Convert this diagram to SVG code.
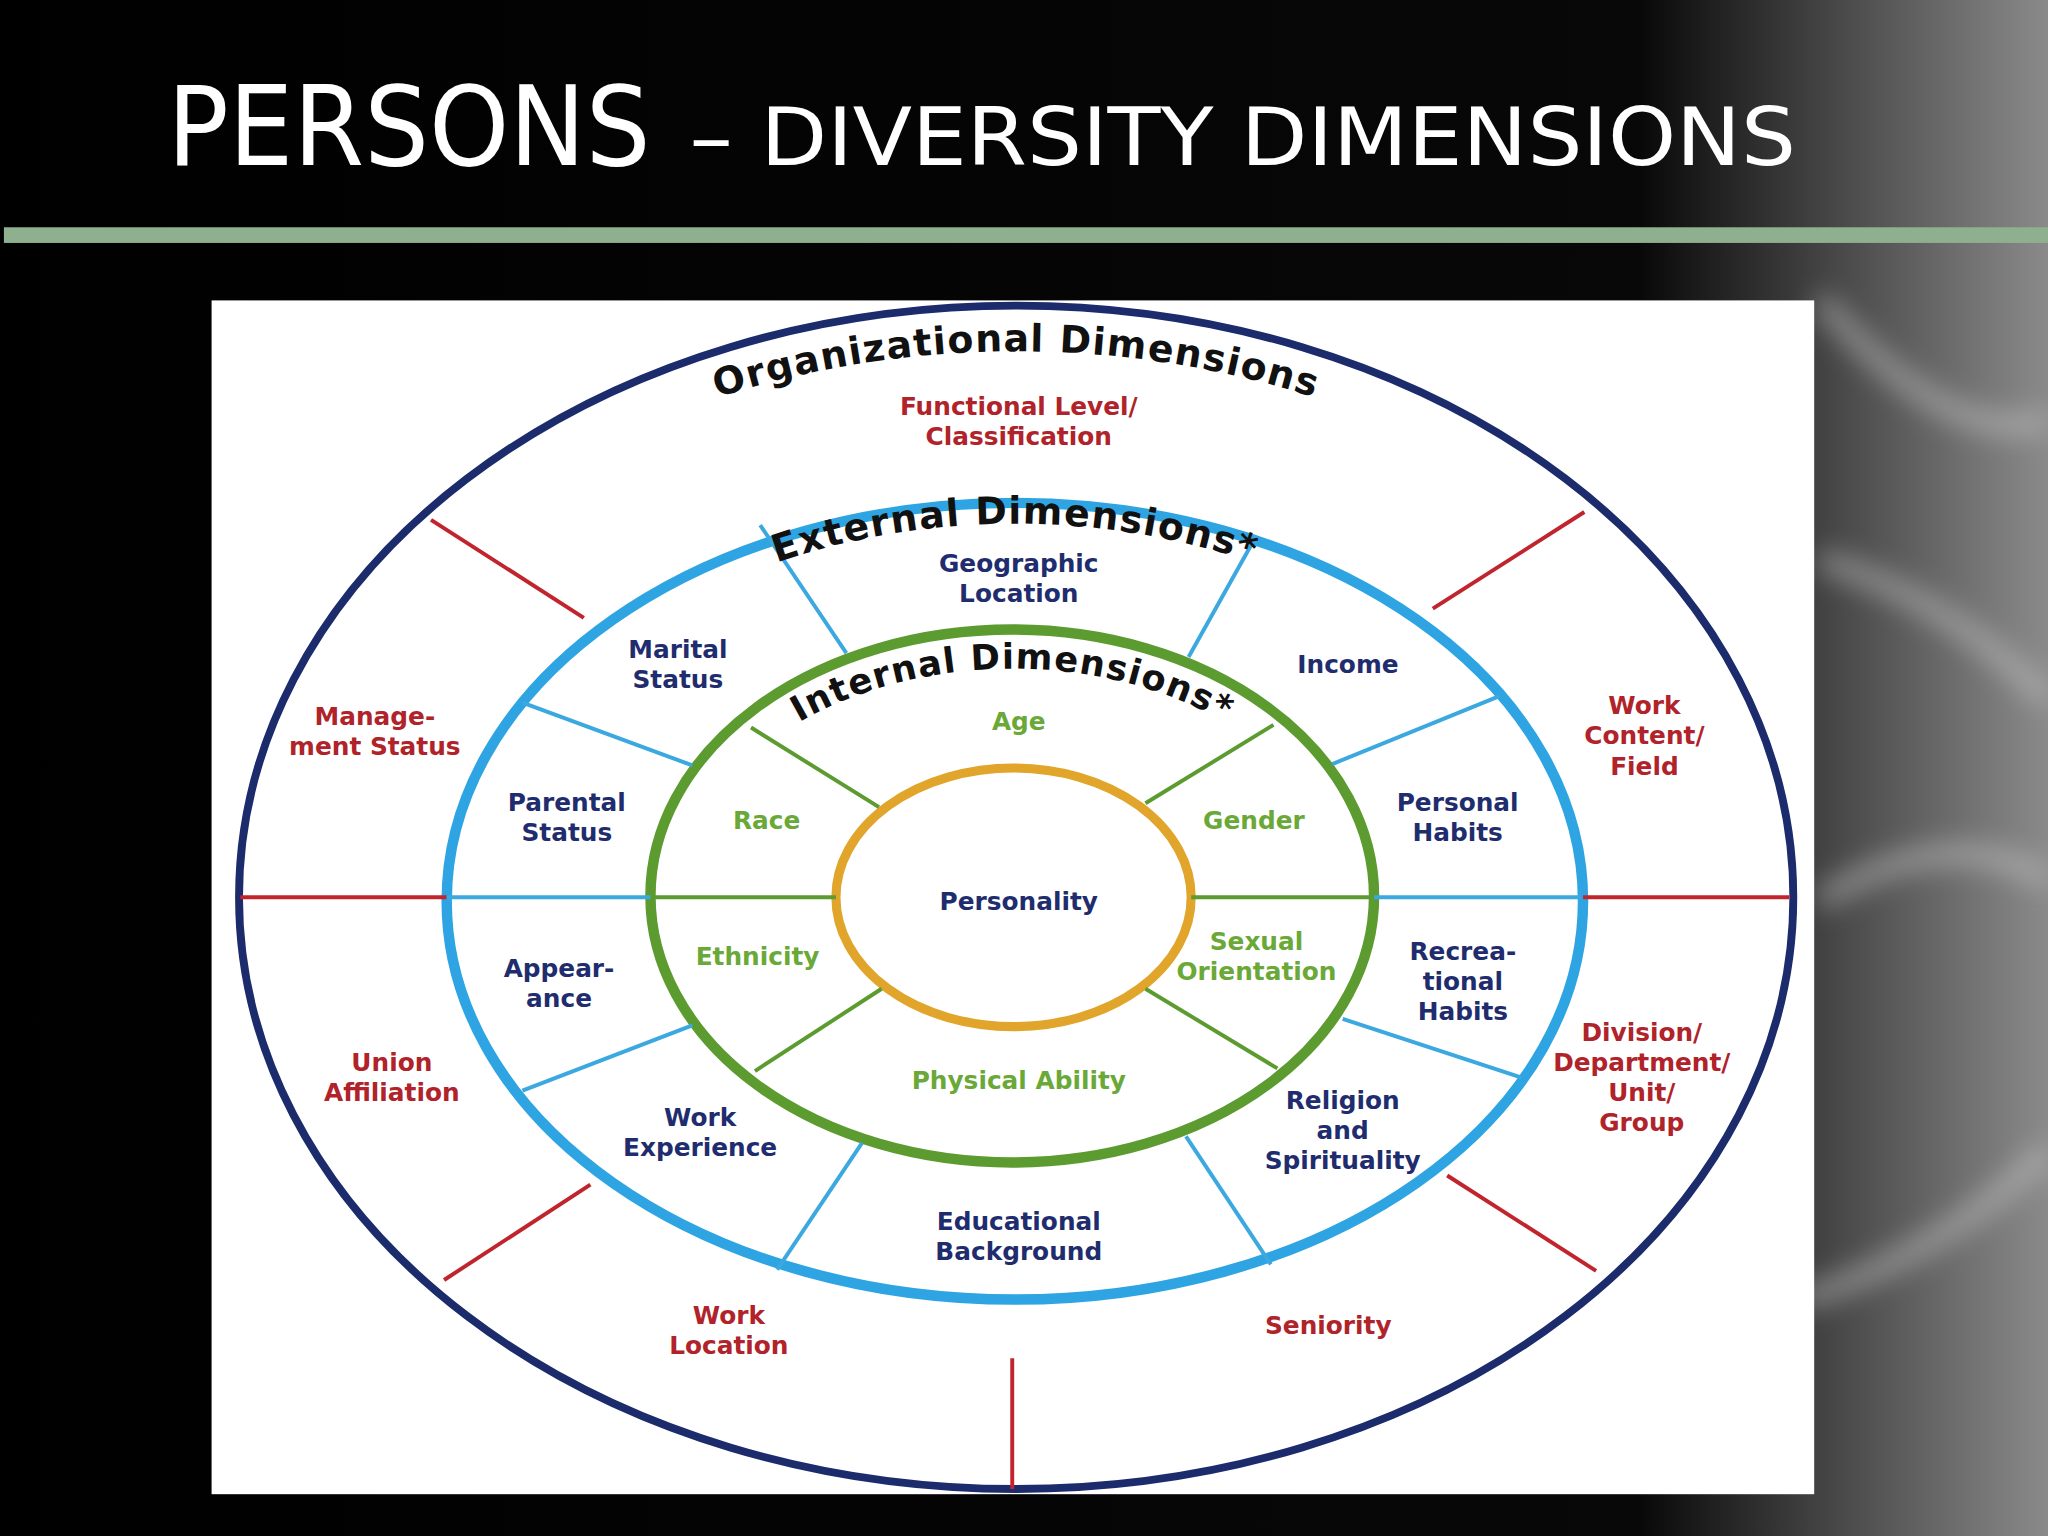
<svg xmlns="http://www.w3.org/2000/svg" width="2048" height="1536" viewBox="0 0 2048 1536">
<defs>
<linearGradient id="bg" x1="0" y1="0" x2="1" y2="0">
<stop offset="0" stop-color="#000"/><stop offset="0.8" stop-color="#080808"/><stop offset="0.9" stop-color="#4a4a4a"/><stop offset="1" stop-color="#8a8a8a"/>
</linearGradient>
<filter id="blur"><feGaussianBlur stdDeviation="14"/></filter>
<style>
.t{font-family:"DejaVu Sans",Verdana,sans-serif;font-weight:bold;font-size:19px;text-anchor:middle}
.r{fill:#b0232a}.n{fill:#1f2d6e}.g{fill:#6aa838}
.rl{stroke:#c0242c;stroke-width:3}.bl{stroke:#3ba8e0;stroke-width:3}.gl{stroke:#5c9b30;stroke-width:3}
.arc{font-family:"DejaVu Sans",Verdana,sans-serif;font-weight:bold;fill:#111;letter-spacing:1px}
.title{font-family:"DejaVu Sans","Liberation Sans",sans-serif;fill:#fff}
</style>
</defs>
<rect width="2048" height="1536" fill="url(#bg)"/>
<g filter="url(#blur)" fill="none" stroke="#ccc" stroke-width="18" opacity="0.6">
<path d="M1820 300 Q1950 450 2048 420"/>
<path d="M1820 560 Q1950 600 2048 700"/>
<path d="M1820 900 Q1950 820 2048 880"/>
<path d="M1800 1300 Q1950 1250 2048 1150"/>
</g>
<g transform="scale(1.30612)">
<text class="title" x="128" y="126" font-size="84" textLength="370" lengthAdjust="spacingAndGlyphs">PERSONS</text>
<text class="title" x="528" y="126" font-size="62" textLength="847" lengthAdjust="spacingAndGlyphs">– DIVERSITY DIMENSIONS</text>
<rect x="3" y="174" width="1565" height="12" fill="#8fb08f"/>
<rect x="162" y="230" width="1227" height="914" fill="#fff"/>
<g id="rings" fill="none">
<ellipse cx="778" cy="687" rx="595" ry="453" stroke="#1b2b6b" stroke-width="6"/>
<ellipse cx="777" cy="690" rx="435" ry="305" stroke="#2ea5e2" stroke-width="8"/>
<ellipse cx="775" cy="686" rx="277" ry="204" stroke="#5c9b30" stroke-width="8"/>
<ellipse cx="776" cy="687" rx="136" ry="99" stroke="#e0a52a" stroke-width="7"/>
</g>
<g id="connectors">
<line class="rl" x1="330" y1="398" x2="447" y2="473"/>
<line class="rl" x1="1213" y1="392" x2="1097" y2="466"/>
<line class="rl" x1="184" y1="687" x2="342" y2="687"/>
<line class="rl" x1="1212" y1="687" x2="1370" y2="687"/>
<line class="rl" x1="340" y1="980" x2="452" y2="907"/>
<line class="rl" x1="1108" y1="900" x2="1222" y2="973"/>
<line class="rl" x1="775" y1="1040" x2="775" y2="1140"/>
<line class="bl" x1="582" y1="402" x2="648" y2="500"/>
<line class="bl" x1="962" y1="410" x2="910" y2="503"/>
<line class="bl" x1="400" y1="538" x2="530" y2="586"/>
<line class="bl" x1="1148" y1="533" x2="1020" y2="585"/>
<line class="bl" x1="342" y1="687" x2="498" y2="687"/>
<line class="bl" x1="1052" y1="687" x2="1210" y2="687"/>
<line class="bl" x1="400" y1="835" x2="530" y2="785"/>
<line class="bl" x1="1028" y1="780" x2="1165" y2="825"/>
<line class="bl" x1="595" y1="972" x2="660" y2="875"/>
<line class="bl" x1="908" y1="870" x2="973" y2="968"/>
<line class="gl" x1="575" y1="557" x2="673" y2="618"/>
<line class="gl" x1="975" y1="555" x2="877" y2="615"/>
<line class="gl" x1="500" y1="687" x2="640" y2="687"/>
<line class="gl" x1="912" y1="687" x2="1050" y2="687"/>
<line class="gl" x1="578" y1="820" x2="675" y2="757"/>
<line class="gl" x1="877" y1="757" x2="978" y2="818"/>
</g>
<path id="a1" d="M 210,687 A 568,418 0 0 1 1346,687" fill="none"/>
<path id="a2" d="M 365,690 A 412,289 0 0 1 1189,690" fill="none"/>
<path id="a3" d="M 522,686 A 253,174 0 0 1 1028,686" fill="none"/>
<g id="titles">
<text class="arc" font-size="29" text-anchor="middle"><textPath href="#a1" startOffset="50%">Organizational Dimensions</textPath></text>
<text class="arc" font-size="29" text-anchor="middle"><textPath href="#a2" startOffset="50%">External Dimensions*</textPath></text>
<text class="arc" font-size="27" text-anchor="middle"><textPath href="#a3" startOffset="50%">Internal Dimensions*</textPath></text>
</g>
<g id="org">
<text class="t r" x="780" y="318">Functional Level/</text><text class="t r" x="780" y="341">Classification</text>
<text class="t r" x="287" y="555">Manage-</text><text class="t r" x="287" y="578">ment Status</text>
<text class="t r" x="1259" y="547">Work</text><text class="t r" x="1259" y="570">Content/</text><text class="t r" x="1259" y="593">Field</text>
<text class="t r" x="300" y="820">Union</text><text class="t r" x="300" y="843">Affiliation</text>
<text class="t r" x="1257" y="797">Division/</text><text class="t r" x="1257" y="820">Department/</text><text class="t r" x="1257" y="843">Unit/</text><text class="t r" x="1257" y="866">Group</text>
<text class="t r" x="558" y="1014">Work</text><text class="t r" x="558" y="1037">Location</text>
<text class="t r" x="1017" y="1021">Seniority</text>
</g>
<g id="ext">
<text class="t n" x="780" y="438">Geographic</text><text class="t n" x="780" y="461">Location</text>
<text class="t n" x="519" y="504">Marital</text><text class="t n" x="519" y="527">Status</text>
<text class="t n" x="1032" y="515">Income</text>
<text class="t n" x="434" y="621">Parental</text><text class="t n" x="434" y="644">Status</text>
<text class="t n" x="1116" y="621">Personal</text><text class="t n" x="1116" y="644">Habits</text>
<text class="t n" x="428" y="748">Appear-</text><text class="t n" x="428" y="771">ance</text>
<text class="t n" x="1120" y="735">Recrea-</text><text class="t n" x="1120" y="758">tional</text><text class="t n" x="1120" y="781">Habits</text>
<text class="t n" x="536" y="862">Work</text><text class="t n" x="536" y="885">Experience</text>
<text class="t n" x="1028" y="849">Religion</text><text class="t n" x="1028" y="872">and</text><text class="t n" x="1028" y="895">Spirituality</text>
<text class="t n" x="780" y="942">Educational</text><text class="t n" x="780" y="965">Background</text>
</g>
<g id="int">
<text class="t g" x="780" y="559">Age</text>
<text class="t g" x="587" y="635">Race</text>
<text class="t g" x="960" y="635">Gender</text>
<text class="t g" x="580" y="739">Ethnicity</text>
<text class="t g" x="962" y="727">Sexual</text><text class="t g" x="962" y="750">Orientation</text>
<text class="t g" x="780" y="834">Physical Ability</text>
</g>
<g id="core"><text class="t n" x="780" y="697" font-size="29">Personality</text></g>
</g>
</svg>
